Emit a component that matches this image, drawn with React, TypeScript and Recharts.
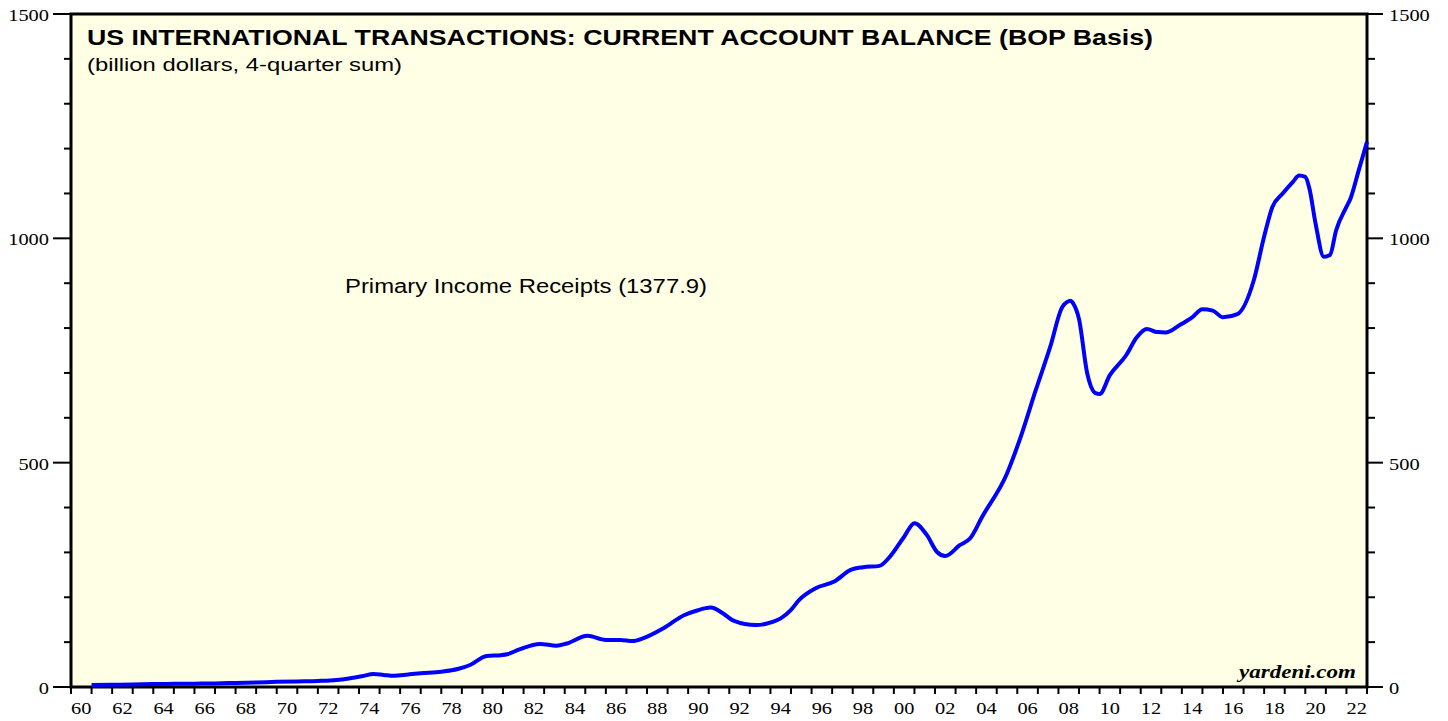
import { LineChart, Line, XAxis, YAxis, ReferenceArea } from 'recharts';

const W = 1448;
const H = 721;
const PLOT_L = 71;
const PLOT_R = 1367;
const PLOT_T = 14;
const PLOT_B = 687;
const YEAR_PX = (PLOT_R - PLOT_L) / 63;
const SX = 1.2; // source image is stretched horizontally

const years = [
  1961, 1962, 1963, 1964, 1965, 1966, 1967, 1968, 1969, 1970, 1971, 1972, 1972.9, 1973.5,
  1974.2, 1974.7, 1975.2, 1975.7, 1976.4, 1977, 1978, 1978.8, 1979.4, 1980.2, 1980.9, 1981.2,
  1981.8, 1982.8, 1983.6, 1984.1, 1985.1, 1986, 1986.7, 1987.3, 1987.8, 1988.8, 1989.8, 1990.4,
  1991.1, 1991.7, 1992.2, 1993.3, 1994.1, 1994.5, 1995, 1995.4, 1996.2, 1997.1, 1997.9, 1998.5,
  1999.3, 1999.8, 2000.5, 2001, 2001.6, 2002.1, 2002.5, 2003.2, 2003.7, 2004.3, 2005.5, 2006.2,
  2006.9, 2007.6, 2008.2, 2008.6, 2008.7, 2009, 2009.4, 2009.8, 2010, 2010.5, 2011.3, 2011.8,
  2012.3, 2012.8, 2013.2, 2013.9, 2014.5, 2015, 2015.5, 2016, 2016.7, 2017.5, 2018, 2018.4,
  2018.9, 2019.4, 2019.7, 2020, 2020.2, 2020.5, 2020.9, 2021.2, 2021.5, 2022, 2022.2, 2022.6,
  2023,
];

const receipts = [
  4.5, 5, 5.5, 6.5, 7, 7.5, 8, 9, 10, 11.5, 12.5, 13.5, 15.6, 19,
  24.5, 29, 27, 25, 28, 30.5, 34, 40, 49, 69, 71, 73,
  84, 96, 92, 97, 114, 105, 105, 102.5, 108.5, 131, 160, 170,
  177, 164, 148, 138, 145, 153, 172, 194, 220, 235, 261, 267,
  270, 290, 335, 365, 339, 301, 292, 316, 331, 380, 476, 562,
  662, 758, 848, 861, 856, 820, 699, 655, 653, 695, 740, 779,
  798, 791, 790, 807, 824, 842, 839, 824, 831, 907, 1004, 1070,
  1100, 1126, 1140, 1137, 1111, 1033, 959, 963, 1018, 1070, 1089, 1152,
  1215,
];

const xTicks = Array.from({ length: 64 }, (_, i) => 1960 + i);
const yTicks = [0, 100, 200, 300, 400, 500, 600, 700, 800, 900, 1000, 1100, 1200, 1300, 1400, 1500];

const data = years.map((yr, i) => ({ yr, v: receipts[i] }));

const serif = '"Liberation Serif", "Times New Roman", serif';
const sans = '"Liberation Sans", Arial, sans-serif';

const XTick = (props: any) => {
  const { x, payload } = props;
  const yr = payload.value as number;
  const y = PLOT_B;
  return (
    <g>
      <line x1={x} y1={y} x2={x} y2={y + 7} stroke="#000" strokeWidth={2} />
      {yr % 2 === 0 && yr < 2023 ? (
        <text
          transform={`translate(${x + YEAR_PX / 2},${y + 27}) scale(${SX},1)`}
          textAnchor="middle"
          fontFamily={serif}
          fontSize={17}
          fill="#000"
        >
          {String(yr).slice(2)}
        </text>
      ) : null}
    </g>
  );
};

const YTickLeft = (props: any) => {
  const { y, payload } = props;
  const x = PLOT_L;
  const major = payload.value % 500 === 0;
  return (
    <g>
      <line x1={x - (major ? 18 : 7)} y1={y} x2={x} y2={y} stroke="#000" strokeWidth={2} />
      {major ? (
        <text
          transform={`translate(${x - 22},${y + 7}) scale(${SX},1)`}
          textAnchor="end"
          fontFamily={serif}
          fontSize={17}
          fill="#000"
        >
          {payload.value}
        </text>
      ) : null}
    </g>
  );
};

const YTickRight = (props: any) => {
  const { y, payload } = props;
  const x = PLOT_R;
  const major = payload.value % 500 === 0;
  return (
    <g>
      <line x1={x} y1={y} x2={x + (major ? 16 : 8)} y2={y} stroke="#000" strokeWidth={2} />
      {major ? (
        <text
          transform={`translate(${x + 22},${y + 7}) scale(${SX},1)`}
          textAnchor="start"
          fontFamily={serif}
          fontSize={17}
          fill="#000"
        >
          {payload.value}
        </text>
      ) : null}
    </g>
  );
};

export default function App() {
  return (
    <div
      style={{
        position: 'absolute',
        left: 0,
        top: 0,
        width: W,
        height: H,
        overflow: 'hidden',
        background: '#fff',
      }}
    >
      <LineChart
        width={W}
        height={H}
        data={data}
        margin={{ top: PLOT_T, right: 0, bottom: 0, left: 0 }}
      >
        <XAxis
          dataKey="yr"
          type="number"
          domain={[1960, 2023]}
          ticks={xTicks}
          interval={0}
          height={H - PLOT_B}
          axisLine={false}
          tickLine={false}
          tickSize={0}
          tickMargin={0}
          tick={<XTick />}
        />
        <YAxis
          yAxisId="left"
          orientation="left"
          domain={[0, 1500]}
          ticks={yTicks}
          interval={0}
          width={PLOT_L}
          axisLine={false}
          tickLine={false}
          tickSize={0}
          tickMargin={0}
          tick={<YTickLeft />}
        />
        <YAxis
          yAxisId="right"
          orientation="right"
          domain={[0, 1500]}
          ticks={yTicks}
          interval={0}
          width={W - PLOT_R}
          axisLine={false}
          tickLine={false}
          tickSize={0}
          tickMargin={0}
          tick={<YTickRight />}
        />
        <ReferenceArea
          yAxisId="left"
          x1={1960}
          x2={2023}
          y1={0}
          y2={1500}
          fill="#ffffe5"
          fillOpacity={1}
          stroke="#000"
          strokeWidth={3}
          ifOverflow="visible"
        />
        <Line
          yAxisId="right"
          dataKey="v"
          stroke="none"
          strokeWidth={0}
          dot={false}
          activeDot={false}
          legendType="none"
          isAnimationActive={false}
        />
        <Line
          yAxisId="left"
          dataKey="v"
          type="monotone"
          stroke="#0000ff"
          strokeWidth={4}
          dot={false}
          isAnimationActive={false}
        />
      </LineChart>
      <svg
        width={W}
        height={H}
        style={{ position: 'absolute', left: 0, top: 0, pointerEvents: 'none' }}
      >
        <text x={87} y={45} fontFamily={sans} fontWeight="bold" fontSize={22} textLength={1066} lengthAdjust="spacingAndGlyphs" fill="#000">
          US INTERNATIONAL TRANSACTIONS: CURRENT ACCOUNT BALANCE (BOP Basis)
        </text>
        <text x={87} y={71} fontFamily={sans} fontSize={19} textLength={315} lengthAdjust="spacingAndGlyphs" fill="#000">
          (billion dollars, 4-quarter sum)
        </text>
        <text x={345} y={293} fontFamily={sans} fontSize={20} textLength={362} lengthAdjust="spacingAndGlyphs" fill="#000">
          Primary Income Receipts (1377.9)
        </text>
        <text x={1356} y={678} textAnchor="end" fontFamily={serif} fontWeight="bold" fontStyle="italic" fontSize={19} textLength={117} lengthAdjust="spacingAndGlyphs" fill="#000">
          yardeni.com
        </text>
      </svg>
    </div>
  );
}
